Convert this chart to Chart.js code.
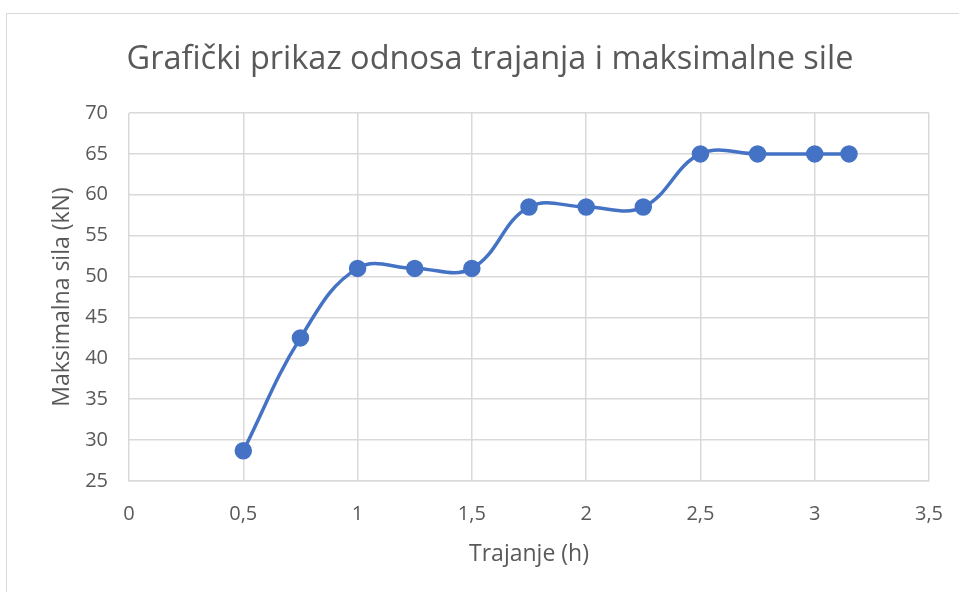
<!DOCTYPE html>
<html>
<head>
<meta charset="utf-8">
<script src="https://cdn.jsdelivr.net/npm/chart.js@4"></script>
<style>
  html, body { margin: 0; padding: 0; background: #fff; overflow: hidden; }
  .frame {
    position: absolute; left: 6px; top: 13px;
    width: 1000px; height: 640px;
    border: 1px solid #d9d9d9;
  }
  .wrap { position: absolute; left: 0; top: 0; width: 959px; height: 592px; }
</style>
</head>
<body>
<div class="frame"></div>
<div class="wrap"><canvas id="chart" width="959" height="592"></canvas></div>
<script>
// Trajanje (h) vs. maksimalna sila (kN)
const trajanje = [0.5, 0.75, 1, 1.25, 1.5, 1.75, 2, 2.25, 2.5, 2.75, 3, 3.15];
const sila = [28.7, 42.5, 51, 51, 51, 58.5, 58.5, 58.5, 65, 65, 65, 65];

const TEXT = '#595959';
const GRID = '#d9d9d9';
const BLUE = '#4472C4';
const FONT = "'Open Sans', sans-serif";

const fmt = v => String(v).replace('.', ',');

new Chart(document.getElementById('chart'), {
  type: 'scatter',
  data: {
    datasets: [{
      data: trajanje.map((x, i) => ({ x, y: sila[i] })),
      showLine: true,
      borderColor: BLUE,
      backgroundColor: BLUE,
      borderWidth: 3.5,
      tension: 0.4,
      pointRadius: 7,
      pointHoverRadius: 7
    }]
  },
  options: {
    responsive: false,
    animation: false,
    // left padding keeps the chart title centred where it belongs
    layout: { padding: { left: 51, right: 30, top: 0, bottom: 0 } },
    plugins: {
      legend: { display: false },
      tooltip: { enabled: false },
      title: {
        display: true,
        text: 'Grafički prikaz odnosa trajanja i maksimalne sile',
        color: TEXT,
        font: { family: FONT, size: 32.5, weight: 'normal', lineHeight: 1.2 },
        padding: { top: 40, bottom: 34 }
      }
    },
    scales: {
      x: {
        type: 'linear',
        min: 0, max: 3.5,
        ticks: { stepSize: 0.5, color: TEXT, padding: 21, font: { family: FONT, size: 20 }, callback: fmt },
        grid: { color: GRID, lineWidth: 1.5, drawTicks: false },
        border: { color: GRID, width: 1.5 },
        title: {
          display: true, text: 'Trajanje (h)', color: TEXT,
          font: { family: FONT, size: 23, lineHeight: 1.2 },
          padding: { top: 0, bottom: 24 }
        },
        afterFit: s => {
          s.height = 111;
          s.paddingLeft = 0;
          s.paddingRight = 0;
        }
      },
      y: {
        min: 25, max: 70,
        ticks: { stepSize: 5, color: TEXT, padding: 21, font: { family: FONT, size: 20 } },
        grid: { color: GRID, lineWidth: 1.5, drawTicks: false },
        border: { display: false },
        title: {
          display: true, text: 'Maksimalna sila (kN)', color: TEXT,
          font: { family: FONT, size: 23, lineHeight: 1.0 },
          padding: { top: 0, bottom: 0 }
        },
        afterFit: s => { s.width = 78; }
      }
    }
  }
});
</script>
</body>
</html>
